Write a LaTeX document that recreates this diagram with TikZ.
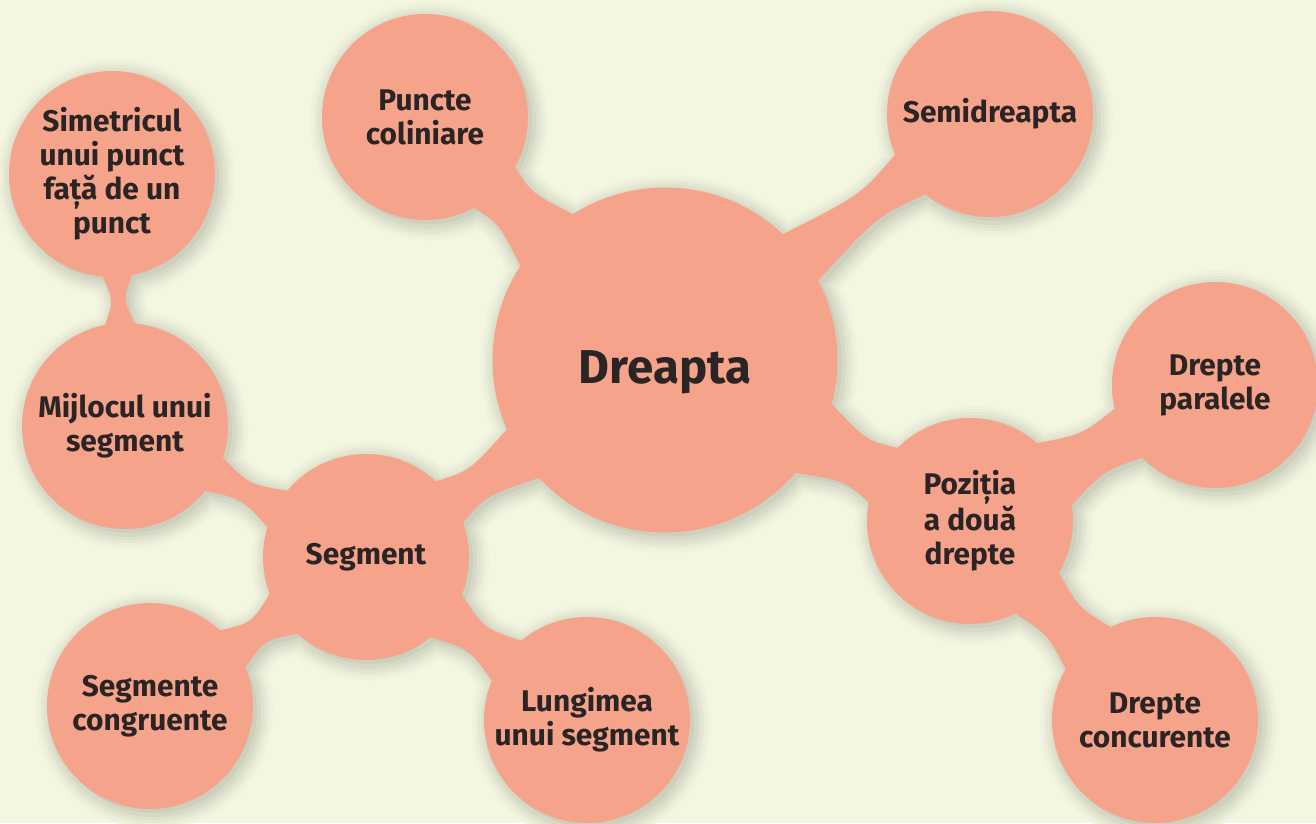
\documentclass[tikz,border=0pt]{standalone}
\usepackage{fontspec}
\setmainfont{Fira Sans}
\usetikzlibrary{calc}
\definecolor{paper}{HTML}{F3F7E1}
\definecolor{salmon}{HTML}{F6A38C}
\definecolor{ink}{HTML}{2A2424}
\pgfdeclarelayer{back}
\pgfsetlayers{back,main}

% node/radius/node/radius/half width at both ends/half width of neck/options
\newcommand{\joint}[8]{%
    \pgfmathsetmacro\aa{asin(#5/#2)}%
    \pgfmathsetmacro\ab{asin(#6/#4)}%
    \pgfmathsetmacro\da{(#2-2)*0.02}%
    \pgfmathsetmacro\db{(#4-2)*0.02}%
    \pgfmathsetmacro\w{(8*#7-#5-#6)/6*0.02}%
    \pgfmathsetmacro\f{#2/(#2+#4)}%
    \coordinate (m) at ($(#1)!\f!(#3)$);%
    \path[#8] ($(#1)!\da cm!\aa:(#3)$) .. controls ($(m)!\w cm!90:(#3)$) .. ($(#3)!\db cm!-\ab:(#1)$)
        -- ($(#3)!\db cm!\ab:(#1)$) .. controls ($(m)!\w cm!-90:(#3)$) .. ($(#1)!\da cm!-\aa:(#3)$) -- cycle;%
}

\begin{document}
\begin{tikzpicture}[x=0.02cm,y=-0.02cm]
    \tikzset{
        bubble/.style={circle, fill=salmon, text=ink, inner sep=0pt, minimum size=4.12cm, align=center, font=\fontsize{17}{19.3}\selectfont\bfseries},
        hub/.style={bubble, minimum size=6.9cm, text height=0.92cm, text depth=0pt, font=\fontsize{27}{30}\selectfont\bfseries},
        bridge/.style={fill=salmon},
        shade/.style={fill=paper!#1!black, draw=paper!#1!black, line join=round}
    }

    \useasboundingbox (0,0) rectangle (1316,823);

    \draw node[hub] (dr) at (665,360) {Dreapta};
    \draw node[bubble] (pc) at (425,117) {Puncte\\coliniare};
    \draw node[bubble] (sd) at (990,114) {Semidreapta};
    \draw node[bubble] (sm) at (112,174) {Simetricul\\unui punct\\față de un\\punct};
    \draw node[bubble] (mj) at (125,426) {Mijlocul unui\\segment};
    \draw node[bubble] (sg) at (366,557) {Segment};
    \draw node[bubble] (sc) at (150,706) {Segmente\\congruente};
    \draw node[bubble] (lu) at (587,720) {Lungimea\\unui segment};
    \draw node[bubble] (pz) at (970,521) {Poziția\\a două\\drepte};
    \draw node[bubble] (dp) at (1215,385) {Drepte\\paralele};
    \draw node[bubble] (dc) at (1155,720) {Drepte\\concurente};

    \def\joints{dr/172.5/pc/103/38/30/25, dr/172.5/sd/103/30/26/17,
        dr/172.5/sg/103/30/26/18, dr/172.5/pz/103/40/32/26,
        sg/103/mj/103/22/20/11, mj/103/sm/103/16/16/7.5,
        sg/103/sc/103/26/24/14, sg/103/lu/103/28/26/16,
        pz/103/dp/103/37/29/24, pz/103/dc/103/31/32/23}

    \begin{pgfonlayer}{back}
        \fill[paper] (0,0) rectangle (1316,823);
        % soft shadow, from the outer ring inwards
        \begin{scope}[transform canvas={shift={(0.08cm,-0.08cm)}}]
            \foreach \k/\c in {16/98.5, 13/96.5, 10/94, 7/91, 4/88, 0/84}{
                \foreach \p/\r in {dr/172.5, pc/103, sd/103, sm/103, mj/103, sg/103, sc/103, lu/103, pz/103, dp/103, dc/103}
                    \fill[paper!\c!black] (\p) circle[radius=\r*0.02cm+\k*0.02cm];
                \foreach \a/\ra/\b/\rb/\ha/\hb/\n in \joints
                    \joint{\a}{\ra}{\b}{\rb}{\ha}{\hb}{\n}{shade=\c, line width=\k*0.04cm+0.01pt};
            }
        \end{scope}
        \foreach \a/\ra/\b/\rb/\ha/\hb/\n in \joints
            \joint{\a}{\ra}{\b}{\rb}{\ha}{\hb}{\n}{bridge};
    \end{pgfonlayer}
\end{tikzpicture}
\end{document}
